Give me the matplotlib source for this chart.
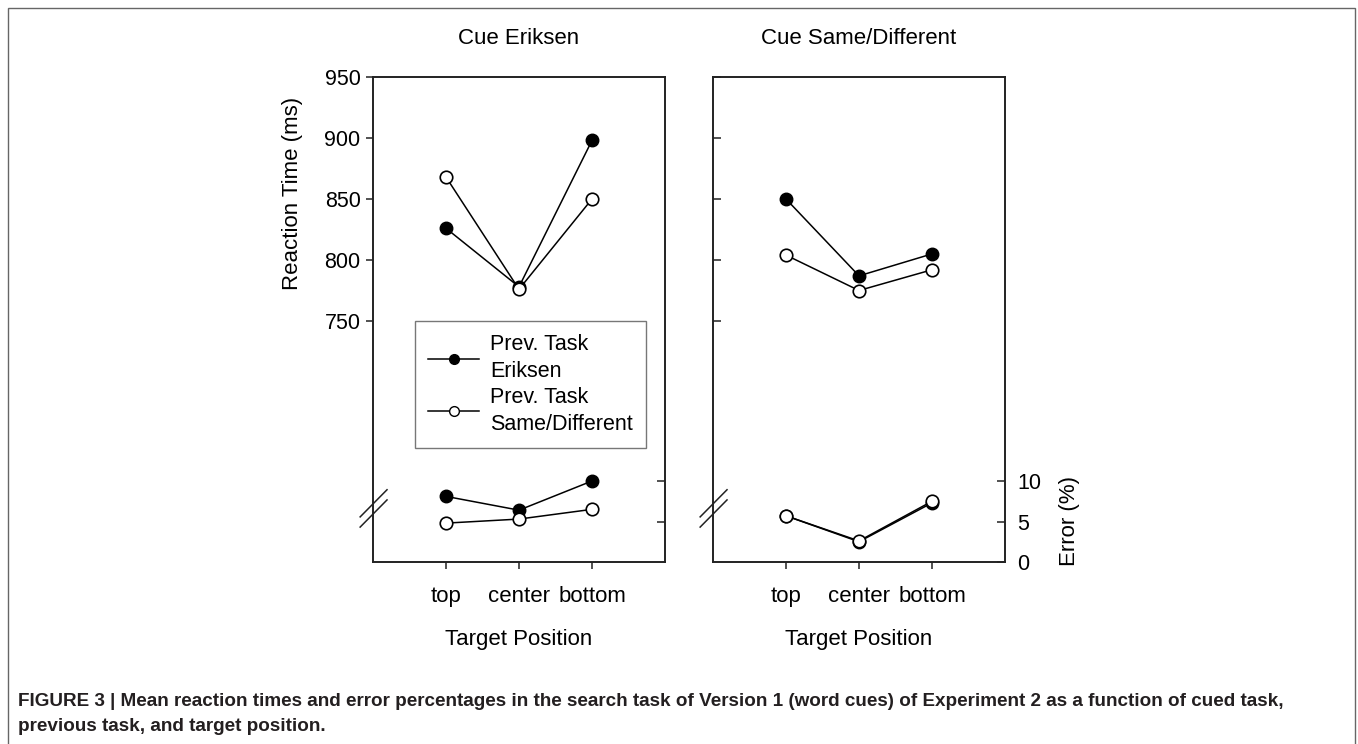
import numpy as np
import matplotlib.pyplot as plt
from matplotlib.patches import Rectangle
from matplotlib.lines import Line2D

plt.rcParams['font.family'] = ['Liberation Sans', 'DejaVu Sans']

positions = ['top', 'center', 'bottom']
panel_titles = ['Cue Eriksen', 'Cue Same/Different']
series_labels = ['Prev. Task\nEriksen', 'Prev. Task\nSame/Different']

# reaction times (ms), previous task Eriksen / Same-Different
rt_cue_eriksen = {'eriksen': [826, 778, 898], 'samediff': [868, 776, 850]}
rt_cue_samediff = {'eriksen': [850, 787, 805], 'samediff': [804, 775, 792]}

# error percentages
err_cue_eriksen = {'eriksen': [8.1, 6.4, 10.0], 'samediff': [4.8, 5.3, 6.5]}
err_cue_samediff = {'eriksen': [5.7, 2.5, 7.3], 'samediff': [5.7, 2.6, 7.5]}

rt_ticks = [750, 800, 850, 900, 950]
err_ticks = [0, 5, 10]

W, H = 1358, 744
fig = plt.figure(figsize=(W / 100, H / 100), dpi=100)

# grey frame around the whole figure
fig.patches.append(Rectangle((8 / W, -0.02), (1355 - 8) / W, 1.02 - 8 / H,
                             transform=fig.transFigure, fill=False,
                             edgecolor='#666666', linewidth=1.0))

spine_col = '#222222'
x = np.arange(1, 4)

panels = [
    (373, rt_cue_eriksen, err_cue_eriksen),
    (713, rt_cue_samediff, err_cue_samediff),
]

for k, (px, rt, err) in enumerate(panels):
    ax = fig.add_axes([px / W, 1 - 562 / H, 292 / W, 485 / H])
    ax.set_xlim(0, 4)
    ax.set_ylim(950 - 485 * 50 / 61, 950)
    ax2 = ax.twinx()
    ax2.set_ylim(0, 485 / 8.1)

    for a in (ax, ax2):
        for s in a.spines.values():
            s.set_color(spine_col)
            s.set_linewidth(1.2)

    # reaction time lines
    ax.plot(x, rt['eriksen'], color='black', lw=1.1, marker='o', ms=9,
            mfc='black', mec='black', mew=1.0, zorder=3)
    ax.plot(x, rt['samediff'], color='black', lw=1.1, marker='o', ms=9,
            mfc='white', mec='black', mew=1.2, zorder=4)
    # error lines on the twin axis
    ax2.plot(x, err['eriksen'], color='black', lw=1.1, marker='o', ms=9,
             mfc='black', mec='black', mew=1.0, zorder=3)
    ax2.plot(x, err['samediff'], color='black', lw=1.1, marker='o', ms=9,
             mfc='white', mec='black', mew=1.2, zorder=4)

    ax.set_xticks(x)
    ax.set_xticklabels(positions, fontsize=16)
    ax.tick_params(axis='x', direction='out', length=5, width=1.1,
                   color=spine_col, pad=12)
    ax.set_xlabel('Target Position', fontsize=16, labelpad=16)

    ax.set_yticks(rt_ticks)
    if k == 0:
        ax.tick_params(axis='y', direction='out', length=5, width=1.1,
                       color=spine_col, labelsize=15.5, pad=4)
    else:
        ax.tick_params(axis='y', direction='in', length=6, width=1.1,
                       color=spine_col, labelleft=False)

    if k == 0:
        ax2.set_yticks([5, 10])
        ax2.tick_params(axis='y', direction='in', length=6, width=1.1,
                        color=spine_col, labelright=False)
    else:
        ax2.set_yticks(err_ticks)
        ax2.tick_params(axis='y', direction='in', length=6, width=1.1,
                        color=spine_col, labelsize=15.5, pad=9)
        ax2.text(1.22, (562 - 521) / 485, 'Error (%)', transform=ax.transAxes,
                 rotation=90, ha='center', va='center', fontsize=16)

    # axis break marks on the left spine
    for y0 in (0.093, 0.072):
        ax.add_line(Line2D([-0.044, 0.048], [y0, y0 + 0.056],
                           transform=ax.transAxes, color=spine_col, lw=1.1,
                           clip_on=False))

    fig.text((px + 146) / W, 1 - 39 / H, panel_titles[k], ha='center',
             va='center', fontsize=16)

    if k == 0:
        ax.text(-0.275, (562 - 193) / 485, 'Reaction Time (ms)',
                transform=ax.transAxes, rotation=90, ha='center',
                va='center', fontsize=16)
        handles = [
            Line2D([], [], color='black', lw=1.1, marker='o', ms=7,
                   mfc='black', mec='black'),
            Line2D([], [], color='black', lw=1.1, marker='o', ms=7,
                   mfc='white', mec='black'),
        ]
        leg = ax.legend(handles, series_labels, loc='upper left',
                        bbox_to_anchor=(0.143, 0.497), fontsize=15.5,
                        fancybox=False, frameon=True, handlelength=2.4,
                        handletextpad=0.5, borderpad=0.6, labelspacing=0.2,
                        borderaxespad=0)
        for t in leg.get_texts():
            t.set_linespacing(1.4)
        leg.get_frame().set_edgecolor('#555555')
        leg.get_frame().set_linewidth(1.0)

caption = ('FIGURE 3 | Mean reaction times and error percentages in the search task '
           'of Version 1 (word cues) of Experiment 2 as a function of cued task,\n'
           'previous task, and target position.')
fig.text(18 / W, 1 - 714 / H, caption, ha='left', va='center', fontsize=13.6,
         fontweight='bold', color='#231f20', linespacing=1.55)

fig.savefig('out.png', dpi=100)
